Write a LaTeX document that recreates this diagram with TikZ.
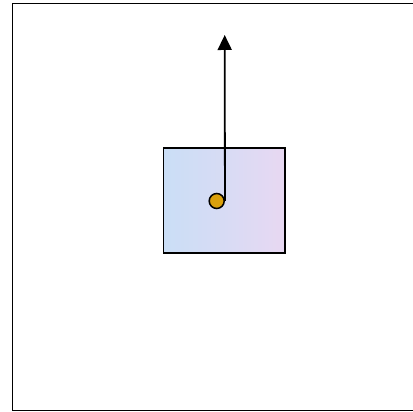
\documentclass[tikz,border=0pt]{standalone}
\usepackage{tikz}
\usetikzlibrary{arrows.meta, positioning}
\definecolor{paleblue}{RGB}{202,222,246}
\definecolor{palepink}{RGB}{232,216,242}
\definecolor{pivotgold}{RGB}{218,160,12}
\tikzset{
    scene/.style={x=1pt, y=1pt, line width=1.8pt},
    frame/.style={draw, line width=1.6pt},
    panel/.style={draw, line width=1.8pt, minimum width=121.5pt, minimum height=105pt,
        inner sep=0pt, left color=paleblue, right color=palepink, middle color=paleblue!55!palepink},
    pivot/.style={draw, circle, fill=pivotgold, line width=1.5pt, minimum size=15pt, inner sep=0pt},
    force/.style={-{Triangle[length=15pt, width=14pt]}, line width=1.8pt},
}
\begin{document}
\begin{tikzpicture}[scene]
    \useasboundingbox (0,0) rectangle (412,412);
    \draw[frame] (12.5,1.5) rectangle (418,408.5);

    \node[panel]                 (plate) at (224.25,211.8) {};
    \node[pivot]                 (hinge) at (216.7,211)    {};
    \coordinate                  (tip)   at (224.7,377);

    \draw[force] (hinge.east) -- (tip);
\end{tikzpicture}
\end{document}
